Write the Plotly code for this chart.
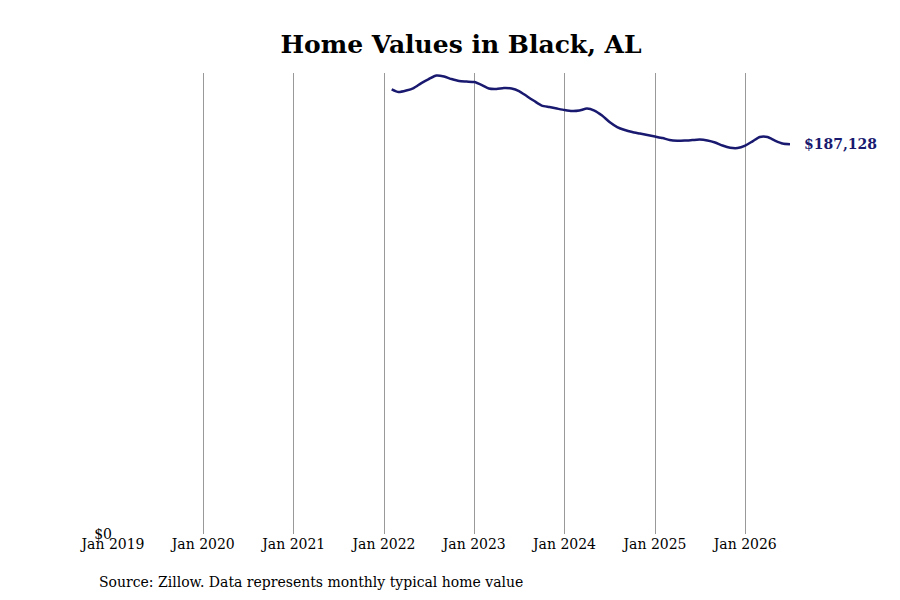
import pandas as pd
import plotly.graph_objects as go

# monthly typical home value, Feb 2022 - Jul 2026
start_month = "2022-02-01"
values = [
    213545, 212248, 212969, 214169, 216570, 218491, 220172, 219692, 218491, 217531, 217291,
    217050, 215610, 213929, 213689, 214169, 213929, 212729, 210328, 207927, 205766, 205045, 204325,
    203605, 203125, 203365, 204325, 203365, 200964, 197842, 195441, 194001, 193040, 192320, 191600,
    190880, 190159, 189199, 188863, 188959, 189199, 189439, 188959, 187998, 186558, 185501, 185357,
    186558, 188719, 190639, 190639, 188959, 187518, 187128,
]
x_range = ["2019-01-01", "2026-07-01"]
y_ticks = [0]
y_tick_text = ["$0"]

dates = pd.date_range(start_month, periods=len(values), freq="MS")

line_color = "#191970"
font_family = "DejaVu Serif"

fig = go.Figure()
fig.add_trace(go.Scatter(
    x=dates, y=values, mode="lines",
    line=dict(color=line_color, width=2.5, shape="spline", smoothing=0.6),
    hoverinfo="skip", showlegend=False,
))

last_label = "${:,}".format(values[-1])
fig.add_annotation(x=dates[-1], y=values[-1], text="<b>" + last_label + "</b>",
                   showarrow=False, xanchor="left", xshift=12,
                   font=dict(family=font_family, size=14, color=line_color))
fig.add_annotation(x=0, y=0, xref="paper", yref="paper", yshift=-48, xshift=-16,
                   text="Source: Zillow. Data represents monthly typical home value",
                   showarrow=False, xanchor="left", yanchor="middle",
                   font=dict(family=font_family, size=14, color="black"))

fig.update_layout(
    width=900, height=600,
    plot_bgcolor="white", paper_bgcolor="white",
    margin=dict(l=105, r=118, t=65, b=74),
    font=dict(family=font_family, size=14, color="black"),
    title=dict(text="<b>Home Values in Black, AL</b>", x=453 / 900, xref="container",
               xanchor="center", y=1 - 36 / 600, yanchor="middle",
               font=dict(family=font_family, size=25, color="black")),
)
fig.update_xaxes(range=x_range, dtick="M12", tick0="2019-01-01",
                 tickformat="%b %Y", showgrid=True, gridcolor="#999999", gridwidth=1,
                 zeroline=False, showline=False, ticks="")
fig.update_yaxes(range=[0, 221400], tickvals=y_ticks, ticktext=y_tick_text, showgrid=False,
                 zeroline=False, showline=False, ticks="")

fig.write_html("out.html")
